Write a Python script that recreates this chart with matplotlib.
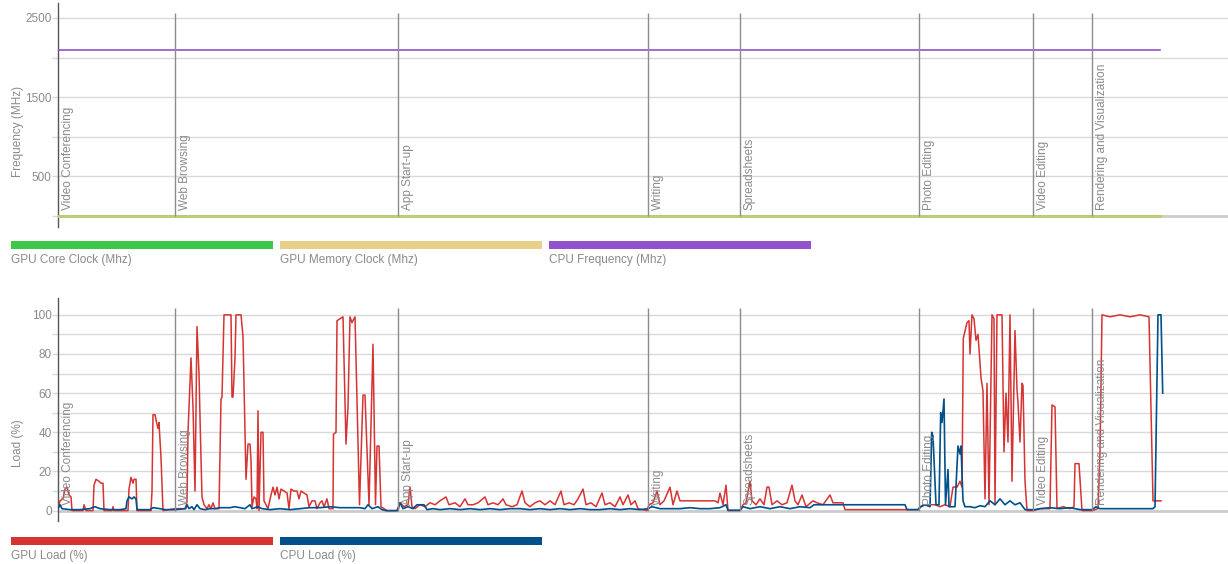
import numpy as np
import matplotlib
matplotlib.use("Agg")
import matplotlib.pyplot as plt
from matplotlib.patches import Rectangle

plt.rcParams['font.family'] = ['Liberation Sans', 'DejaVu Sans']

# workload phases (sample index where each starts)
phase_names = ['Video Conferencing', 'Web Browsing', 'App Start-up', 'Writing',
               'Spreadsheets', 'Photo Editing', 'Video Editing', 'Rendering and Visualization']
phase_start = [0, 117, 340, 590, 682, 861, 975, 1034]

# clocks (MHz)
freq_t = [0, 1102]
cpu_freq = [2100, 2100]
gpu_core_clock = [0, 0]
gpu_mem_clock = [0, 0]

# GPU load (%) - (sample, value)
gpu_load = [
    (0, 1), (2, 5), (5, 6), (7, 11), (9, 12), (11, 8), (13, 7), (14, 0), (25, 0), (26, 3), (28, 0),
    (35, 0), (36, 13), (38, 16), (41, 15), (43, 14), (45, 14), (46, 0), (54, 0), (55, 2), (56, 0),
    (70, 0), (71, 11), (73, 17), (75, 14), (76, 16), (78, 16), (79, 0), (93, 0), (94, 10), (95, 49),
    (97, 49), (99, 44), (100, 42), (101, 45), (103, 27), (105, 0), (117, 1), (128, 1), (129, 5),
    (130, 40), (133, 78), (135, 53), (137, 10), (139, 94), (141, 70), (142.5, 37), (144, 7), (146, 3),
    (149, 1), (151, 3), (153, 1), (155, 4), (157, 1), (161, 1), (163, 57), (164, 58), (166, 100),
    (173, 100), (174, 58), (175, 58), (177, 78), (178, 100), (183, 100), (185, 89), (188, 16),
    (190, 34), (192, 34), (193, 26), (194, 2), (196, 7), (198, 6), (199, 1), (200, 51), (201, 0),
    (203, 40), (205, 40), (206, 5), (210, 1), (213, 8), (215, 12), (217, 8), (219, 12), (221, 6),
    (223, 11), (226, 10), (229, 9), (231, 1), (233, 11), (236, 10), (239, 10), (241, 6), (243, 10),
    (246, 9), (249, 8), (251, 2), (254, 5), (257, 5), (259, 1), (262, 4), (264, 5), (266, 2),
    (269, 6), (271, 1), (275, 1), (275.5, 39), (278, 40), (279, 97), (285, 99), (288, 34), (290, 53),
    (292, 99), (294, 96), (297, 99), (299.5, 46), (301.5, 3), (305, 59), (307, 59), (309, 31),
    (311, 3), (315, 85), (317.5, 3), (319, 33), (321, 33), (323, 2), (326, 1), (329, 0), (340, 0),
    (342, 4), (346, 2), (350, 3), (352, 12), (354, 2), (357, 1), (362, 3), (367, 2), (372, 4),
    (377, 3), (382, 5), (388, 7), (391, 3), (397, 4), (402, 2), (407, 6), (410, 3), (415, 3),
    (420, 4), (427, 7), (430, 3), (435, 4), (440, 3), (445, 6), (448, 3), (454, 2), (459, 3),
    (464, 10), (467, 4), (472, 2), (477, 4), (482, 5), (487, 3), (492, 5), (497, 3), (503, 10),
    (506, 3), (511, 4), (516, 3), (520, 6), (525, 11), (528, 3), (533, 4), (538, 2), (544, 9),
    (547, 3), (552, 4), (557, 2), (562, 7), (565, 3), (570, 8), (573, 3), (577, 5), (580, 1),
    (589, 0), (591, 3), (595, 4), (599, 10), (602, 3), (606, 5), (612, 12), (615, 3), (619, 10),
    (622, 5), (642, 5), (657, 5), (660, 4), (662, 9), (665, 3), (668, 13), (670, 0), (682, 0),
    (685, 3), (688, 4), (692, 15), (694, 5), (698, 3), (702, 6), (706, 3), (709, 12), (711, 12),
    (714, 3), (719, 5), (724, 3), (729, 4), (734, 13), (737, 5), (740, 3), (744, 8), (748, 2),
    (755, 5), (759, 4), (765, 3), (772, 8), (775, 4), (785, 4), (787, 0.5), (860, 0.5), (862, 2),
    (867, 3), (877, 3), (882, 2), (887, 3), (892, 2), (895, 12), (899, 12), (902, 15), (904, 12),
    (905.3, 88), (909, 96), (911, 97), (912, 80), (914, 100), (916, 98), (918, 87), (920, 90),
    (923, 68), (925, 61), (927, 6), (929, 65), (931, 3), (933, 66), (934, 100), (936, 98), (937, 3),
    (939, 100), (944, 100), (946, 30), (948, 60), (950, 35), (952, 100), (954, 15), (957, 92),
    (959, 62), (960, 55), (962, 35), (964, 65), (965, 64), (967, 15), (969, 0), (975, 0), (982, 1),
    (992, 1), (994, 54), (997, 53), (999, 1), (1005, 2), (1012, 1), (1016, 2), (1017, 24),
    (1021, 24), (1024, 0), (1034, 0), (1040, 1), (1042, 30), (1044, 100), (1052, 99), (1062, 100),
    (1072, 99), (1082, 100), (1091, 99), (1095, 5), (1103, 5),
]

# CPU load (%) - (sample, value)
cpu_load = [
    (0, 1), (2, 3), (4, 1), (12, 0.5), (22, 0.5), (32, 1), (37, 2), (42, 1), (52, 0.5), (62, 0.5),
    (68, 1), (69, 5), (71, 7), (74, 6), (76, 7), (78, 6), (79, 0.5), (92, 0.5), (95, 1.5), (102, 1),
    (107, 0.5), (117, 0.5), (127, 1), (129, 3), (131, 1), (134, 2), (136, 0.5), (139, 3), (142, 1),
    (147, 0.5), (152, 1), (157, 1), (162, 1.5), (172, 1.5), (177, 2), (182, 1.5), (187, 1), (192, 3),
    (194, 1), (200, 2), (204, 1), (212, 0.5), (222, 1), (232, 0.5), (242, 1), (252, 1.5), (262, 1.5),
    (272, 2), (282, 1.5), (292, 1.5), (302, 1.5), (307, 1), (310, 3), (314, 1), (320, 2), (324, 0.5),
    (328, 0), (339, 0), (342, 4), (345, 1), (350, 2), (355, 1), (359, 3), (366, 3), (369, 0.5),
    (375, 1), (382, 0.5), (392, 1), (402, 0.5), (412, 1), (422, 0.5), (432, 1), (442, 0.5), (452, 1),
    (462, 1), (472, 0.5), (482, 1), (492, 0.5), (502, 1), (512, 0.5), (522, 1), (532, 0.5),
    (542, 0.5), (552, 1), (562, 0.5), (572, 1), (582, 0.5), (590, 1), (594, 2), (602, 1), (612, 1),
    (622, 1), (632, 1.5), (642, 1), (652, 1), (662, 1.5), (668, 3), (670, 0.2), (682, 0.2), (685, 2),
    (692, 1), (702, 2), (712, 1), (722, 2), (732, 1), (742, 2), (752, 1.5), (756, 3), (772, 3),
    (792, 3), (812, 3), (832, 3), (847, 3), (849, 0.5), (860, 0.5), (863, 2), (867, 3), (872, 2),
    (873.7, 40), (875, 38), (878, 3), (881, 3), (882.7, 50), (884, 45), (886, 57), (887.5, 3),
    (890, 21), (891, 2), (897, 2), (900, 33), (902, 29), (903, 33), (905, 5), (907, 2), (912, 2),
    (917, 1.5), (922, 2.5), (927, 2), (932, 5), (937, 3), (942, 6), (947, 3), (952, 5), (957, 3),
    (962, 4), (967, 0.5), (977, 0.5), (982, 1), (992, 1.5), (1002, 1), (1012, 1.5), (1022, 0.5),
    (1034, 0.5), (1038, 2), (1042, 1), (1052, 1), (1072, 1), (1095, 1), (1097, 2), (1100, 100),
    (1103, 100), (1104.7, 60),
]

txt = '#8a8a8a'
grid_c = '#d9d9d9'
marker_c = '#8c8c8c'

fig = plt.figure(figsize=(12.28, 5.64), dpi=100)
ax1 = fig.add_axes([58 / 1228, 1 - 227 / 564, 1170 / 1228, 224 / 564])
ax2 = fig.add_axes([58 / 1228, 1 - 521 / 564, 1170 / 1228, 223 / 564])


def style(ax, major, minor, ylim):
    ax.set_xlim(0, 1170)
    ax.set_ylim(*ylim)
    ax.set_yticks(major)
    ax.set_yticks(minor, minor=True)
    ax.set_xticks([])
    for s in ['top', 'right', 'bottom']:
        ax.spines[s].set_visible(False)
    ax.spines['left'].set_color('#555555')
    ax.spines['left'].set_linewidth(1)
    ax.tick_params(axis='y', which='both', length=4.5, color=grid_c, width=1,
                   labelsize=8.5, labelcolor=txt, pad=0)
    ax.grid(True, axis='y', which='both', color=grid_c, linewidth=1)
    ax.set_axisbelow(True)
    ax.axhline(0, color='#cccccc', linewidth=2, zorder=1)


style(ax1, [500, 1500, 2500], [0, 1000, 2000], (-139, 2689))
style(ax2, [0, 20, 40, 60, 80, 100], [10, 30, 50, 70, 90], (-5.3, 108.6))

# top panel: clocks
ax1.plot(freq_t, gpu_core_clock, color='#3ec84a', linewidth=2, zorder=3)
ax1.plot(freq_t, gpu_mem_clock, color='#e9d08a', linewidth=2, alpha=0.75, zorder=3)
ax1.plot(freq_t, cpu_freq, color='#9152cb', linewidth=1.2, zorder=3)

# bottom panel: loads
gt, gv = np.array(gpu_load).T
ct, cv = np.array(cpu_load).T
ax2.plot(gt, gv, color='#d63333', linewidth=1.1, zorder=3)
ax2.plot(ct, cv, color='#00508a', linewidth=1.2, zorder=4)

# phase markers
for ax, top in [(ax1, 2563), (ax2, 103.5)]:
    ax.vlines(phase_start[1:], 0, top, color=marker_c, linewidth=1, zorder=5)
    for name, t in zip(phase_names, phase_start):
        ax.annotate(name, xy=(t, 0), xytext=(4, 6), textcoords='offset pixels',
                    rotation=90, ha='left', va='bottom', fontsize=8.5, color=txt, zorder=6)

fig.text(18 / 1228, 1 - 131 / 564, 'Frequency (MHz)', rotation=90, ha='center', va='center',
         fontsize=8.5, color=txt)
fig.text(18 / 1228, 1 - 443 / 564, 'Load (%)', rotation=90, ha='center', va='center',
         fontsize=8.5, color=txt)

# legends: colour bar with label underneath
legend_top = [('GPU Core Clock (Mhz)', '#3ec84a'), ('GPU Memory Clock (Mhz)', '#e9d08a'),
              ('CPU Frequency (Mhz)', '#9152cb')]
legend_bottom = [('GPU Load (%)', '#d63333'), ('CPU Load (%)', '#00508a')]
for items, bar_y in [(legend_top, 241), (legend_bottom, 537)]:
    for i, (label, col) in enumerate(items):
        x0 = 11 + i * 269
        fig.add_artist(Rectangle((x0 / 1228, 1 - (bar_y + 8) / 564), 262 / 1228, 8 / 564,
                                 transform=fig.transFigure, color=col, lw=0))
        fig.text(x0 / 1228, 1 - (bar_y + 19) / 564, label, ha='left', va='center',
                 fontsize=8.5, color=txt)

fig.savefig('out.png', dpi=100)
